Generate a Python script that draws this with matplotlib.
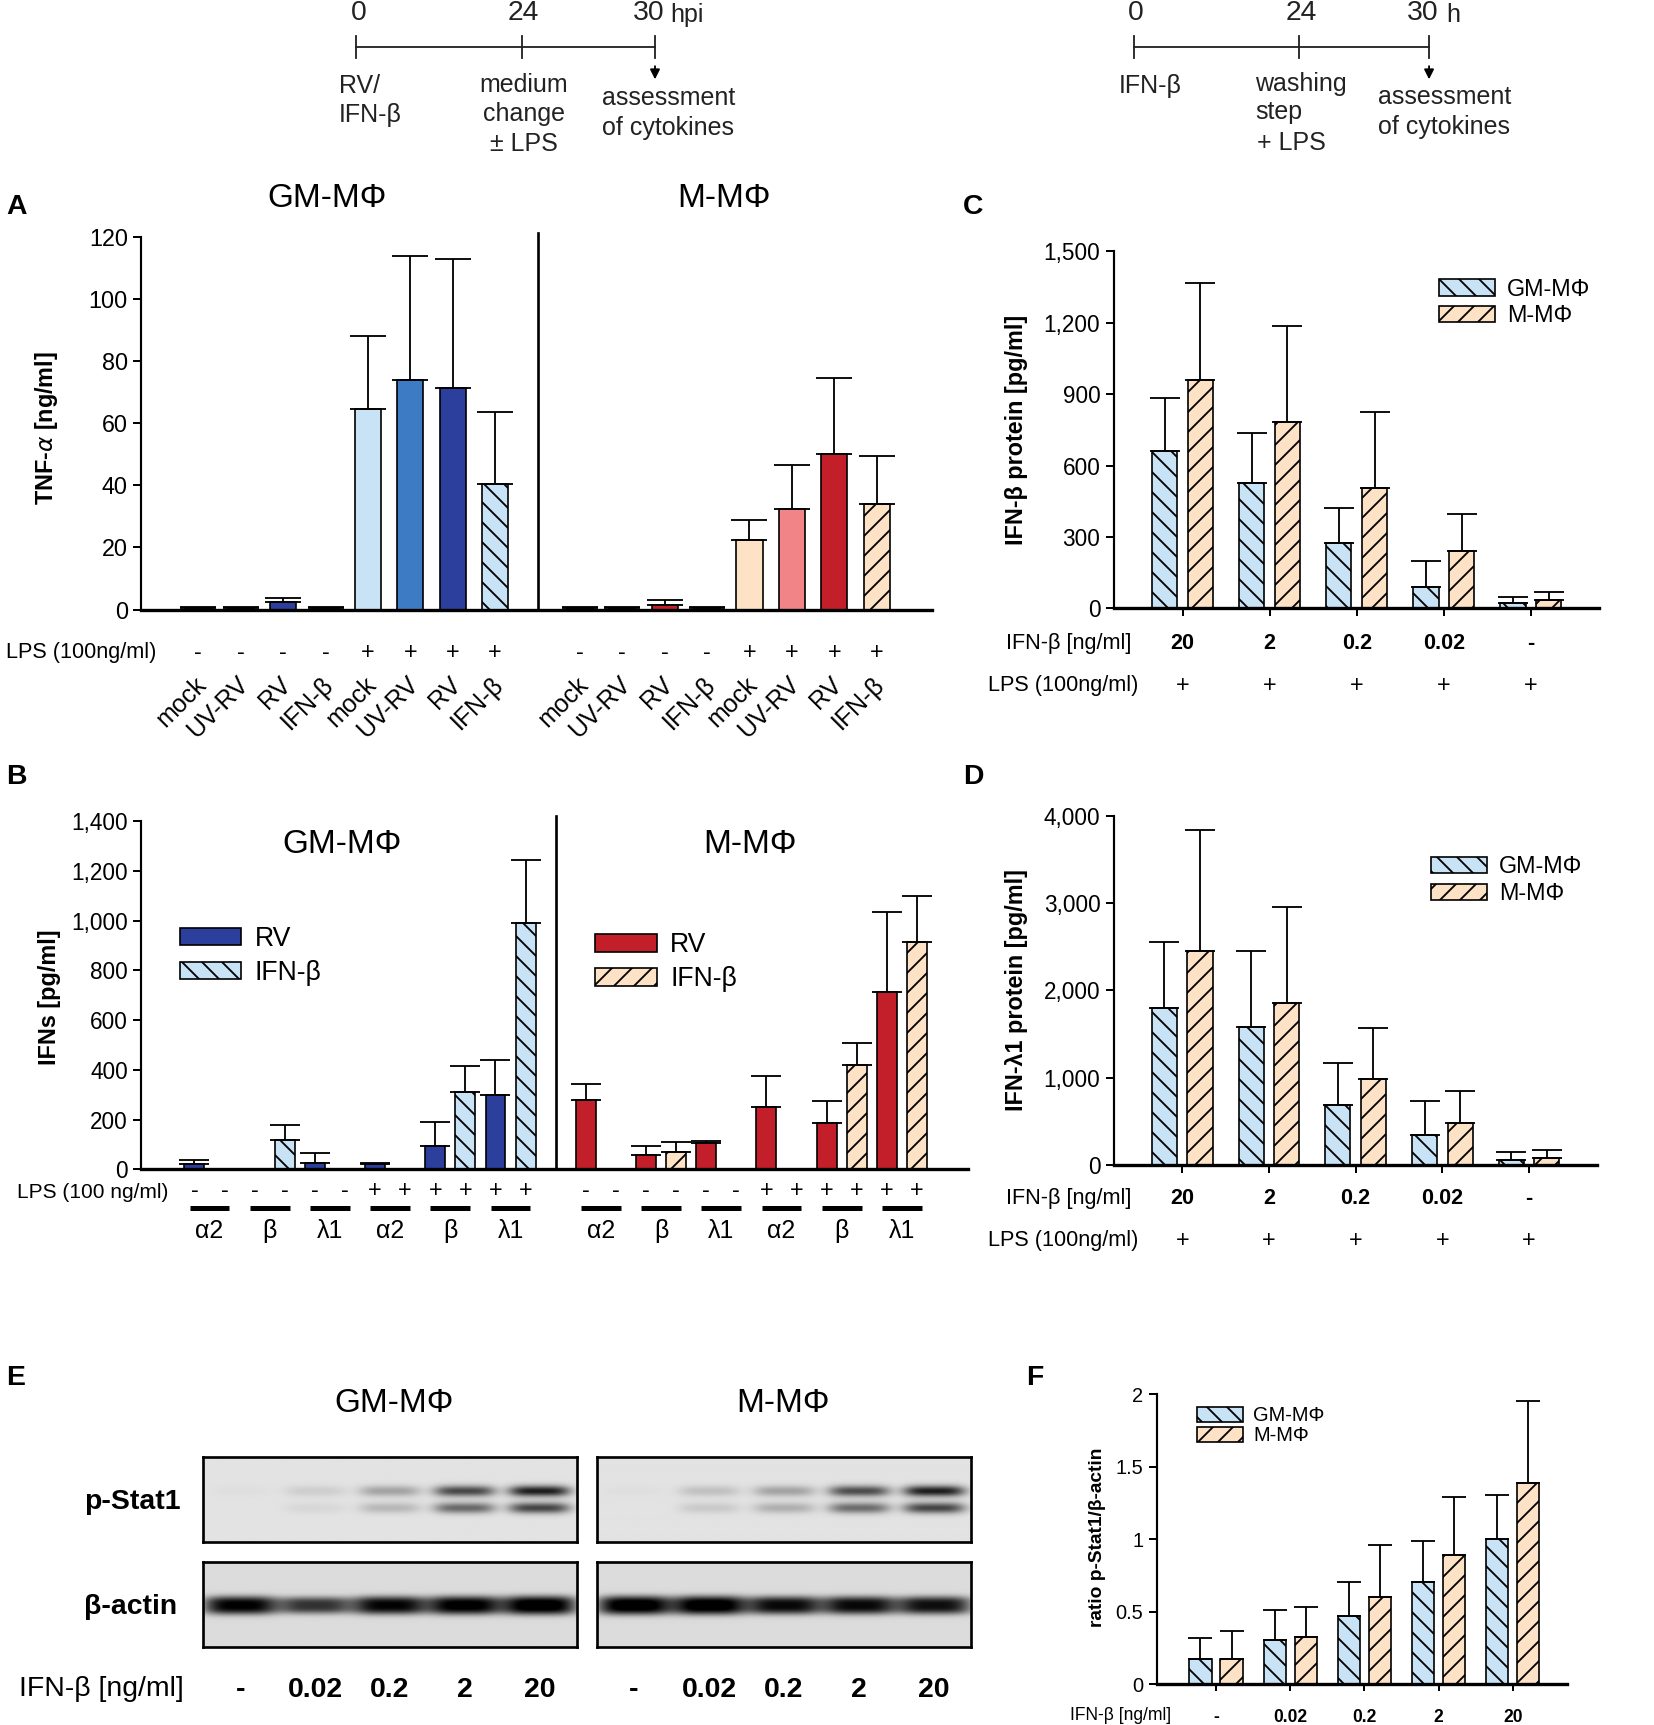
import numpy as np
import matplotlib
matplotlib.use('Agg')
import matplotlib.pyplot as plt
from matplotlib import transforms
from matplotlib.patches import Patch
from matplotlib.ticker import FuncFormatter

plt.rcParams['font.family'] = ['Liberation Sans', 'DejaVu Sans']
plt.rcParams['hatch.linewidth'] = 1.1
plt.rcParams['hatch.color'] = 'black'

# ---------------- data ----------------
# Panel A : TNF-alpha
a_conditions = ['mock', 'UV-RV', 'RV', 'IFN-β', 'mock', 'UV-RV', 'RV', 'IFN-β']
a_lps = ['-', '-', '-', '-', '+', '+', '+', '+']
a_gm_vals = [0.5, 0.5, 2.5, 0.5, 64.5, 74.0, 71.5, 40.5]
a_gm_err = [0.3, 0.3, 1.2, 0.3, 23.5, 40.0, 41.5, 23.0]
a_m_vals = [0.5, 0.5, 1.5, 0.5, 22.5, 32.5, 50.0, 34.0]
a_m_err = [0.3, 0.3, 1.5, 0.3, 6.5, 14.0, 24.5, 15.5]

# Panel B : IFNs
b_groups = ['α2', 'β', 'λ1', 'α2', 'β', 'λ1']
b_lps = ['-', '-', '-', '+', '+', '+']
b_gm_rv = [22, 0, 28, 20, 95, 300]
b_gm_rv_err = [18, 0, 39, 7, 96, 139]
b_gm_ifn = [0, 118, 3, 0, 310, 990]
b_gm_ifn_err = [0, 59, 0, 0, 107, 252]
b_m_rv = [278, 57, 105, 250, 185, 715]
b_m_rv_err = [65, 39, 9, 127, 89, 320]
b_m_ifn = [0, 70, 3, 0, 420, 915]
b_m_ifn_err = [0, 40, 0, 0, 87, 185]

# Panels C / D
cd_doses = ['20', '2', '0.2', '0.02', '-']
cd_lps = ['+', '+', '+', '+', '+']
c_gm = [660, 525, 275, 90, 22]
c_gm_err = [225, 210, 148, 108, 28]
c_m = [960, 785, 505, 240, 35]
c_m_err = [405, 403, 318, 156, 34]
d_gm = [1800, 1580, 690, 340, 60]
d_gm_err = [755, 865, 475, 395, 94]
d_m = [2445, 1860, 990, 480, 78]
d_m_err = [1393, 1090, 578, 368, 92]

# Panel E : western blot band intensities (0..1)
e_lanes = ['-', '0.02', '0.2', '2', '20']
e_gm_pstat_upper = [0.02, 0.10, 0.30, 0.72, 0.92]
e_gm_pstat_lower = [0.00, 0.06, 0.22, 0.62, 0.80]
e_m_pstat_upper = [0.02, 0.16, 0.30, 0.70, 0.92]
e_m_pstat_lower = [0.00, 0.13, 0.26, 0.60, 0.80]
e_gm_actin = [0.92, 0.70, 0.90, 0.95, 1.00]
e_m_actin = [1.00, 1.00, 0.88, 0.88, 0.85]

# Panel F : ratio p-Stat1 / beta-actin
f_doses = ['-', '0.02', '0.2', '2', '20']
f_gm = [0.175, 0.305, 0.47, 0.705, 1.0]
f_gm_err = [0.145, 0.21, 0.235, 0.28, 0.305]
f_m = [0.175, 0.325, 0.605, 0.89, 1.39]
f_m_err = [0.19, 0.21, 0.355, 0.405, 0.565]

# ---------------- styles ----------------
LIGHT_BLUE = '#c8e3f6'
MID_BLUE = '#3d7cc4'
DARK_BLUE = '#2c3f9c'
PEACH = '#fde2c5'
SALMON = '#f08486'
RED = '#c31f2b'
H_GM = '\\\\'
H_M = '//'
TXT = '#222222'

W, H = 1500.0, 1565.0
fig = plt.figure(figsize=(1654 / 120, 1725 / 120), dpi=120)
ov = fig.add_axes([0, 0, 1, 1])
ov.set_xlim(0, W)
ov.set_ylim(H, 0)
ov.axis('off')


def add_ax(l, t, r, b):
    return fig.add_axes([l / W, 1 - b / H, (r - l) / W, (b - t) / H])


def ytr(ax):
    return transforms.blended_transform_factory(ax.transData, ov.transData)


def style(ax, tick_fs, bottom_lw=2.0):
    for s in ['top', 'right']:
        ax.spines[s].set_visible(False)
    ax.spines['left'].set_linewidth(1.3)
    ax.spines['bottom'].set_linewidth(bottom_lw)
    ax.tick_params(axis='y', direction='out', length=5, width=1.2,
                   labelsize=tick_fs, pad=3, colors='black')
    ax.patch.set_alpha(0)


def bars(ax, x, vals, errs, colors, hatches, width, capsize):
    bc = ax.bar(x, vals, width=width, color=colors, edgecolor='black',
                linewidth=1.0, zorder=2)
    for p, h in zip(bc.patches, hatches):
        if h:
            p.set_hatch(h)
    x = np.asarray(x, float)
    vals = np.asarray(vals, float)
    errs = np.asarray(errs, float)
    m = errs > 0
    ax.errorbar(x[m], vals[m], yerr=[np.zeros(m.sum()), errs[m]], fmt='none',
                ecolor='black', elinewidth=1.1, capsize=capsize,
                capthick=1.1, zorder=3)


comma = FuncFormatter(lambda v, p: f'{v:,.0f}')

# ---------------- timelines ----------------
def timeline(xs, y, unit, unit_x):
    ov.plot([xs[0], xs[-1]], [y, y], color=TXT, lw=1.1)
    for x in xs:
        ov.plot([x, x], [y - 10, y + 10], color=TXT, lw=1.1)
    for x, s in zip(xs, ['0', '24', '30']):
        dx = -6 if s == '30' else 2
        ov.text(x + dx, 12, s, ha='center', va='center', fontsize=17, color=TXT)
    ov.text(unit_x, 14, unit, ha='left', va='center', fontsize=15, color=TXT)
    ov.annotate('', xy=(xs[-1], y + 32), xytext=(xs[-1], y + 14),
                arrowprops=dict(arrowstyle='-|>', color='black', lw=1.1,
                                mutation_scale=12))

timeline([323, 473, 594], 43, 'hpi', 608)
ov.text(307, 78, 'RV/', ha='left', va='center', fontsize=15, color=TXT)
ov.text(307, 104, 'IFN-β', ha='left', va='center', fontsize=15, color=TXT)
for yy, s in zip([77, 103, 131], ['medium', 'change', '± LPS']):
    ov.text(475, yy, s, ha='center', va='center', fontsize=15, color=TXT)
ov.text(546, 89, 'assessment', ha='left', va='center', fontsize=15, color=TXT)
ov.text(546, 116, 'of cytokines', ha='left', va='center', fontsize=15, color=TXT)

timeline([1028, 1178, 1296], 43, 'h', 1312)
ov.text(1015, 78, 'IFN-β', ha='left', va='center', fontsize=15, color=TXT)
ov.text(1138, 76, 'washing', ha='left', va='center', fontsize=15, color=TXT)
ov.text(1138, 102, 'step', ha='left', va='center', fontsize=15, color=TXT)
ov.text(1140, 130, '+ LPS', ha='left', va='center', fontsize=15, color=TXT)
ov.text(1250, 88, 'assessment', ha='left', va='center', fontsize=15, color=TXT)
ov.text(1250, 115, 'of cytokines', ha='left', va='center', fontsize=15, color=TXT)

# ---------------- panel letters ----------------
for x, y, s in [(6, 188, 'A'), (6, 705, 'B'), (873, 188, 'C'), (873, 705, 'D'),
                (6, 1250, 'E'), (931, 1250, 'F')]:
    ov.text(x, y, s, ha='left', va='center', fontsize=17, fontweight='bold')

# ---------------- Panel A ----------------
axA = add_ax(128, 215, 845, 553)
style(axA, 14)
gm_x = np.arange(8)
m_x = np.arange(9, 17)
bars(axA, gm_x, a_gm_vals, a_gm_err, [LIGHT_BLUE, MID_BLUE, DARK_BLUE, LIGHT_BLUE] * 2,
     ['', '', '', H_GM] * 2, 0.62, 11)
bars(axA, m_x, a_m_vals, a_m_err, [PEACH, SALMON, RED, PEACH] * 2,
     ['', '', '', H_M] * 2, 0.62, 11)
axA.set_xlim(-1.35, 17.3)
axA.set_ylim(0, 120)
axA.set_yticks(np.arange(0, 121, 20))
axA.set_xticks([])
axA.axvline(8, ymin=0, ymax=1.01, color='black', lw=1.6, clip_on=False)
trA = ytr(axA)
for xs in (gm_x, m_x):
    for x, s, c in zip(xs, a_lps, a_conditions):
        axA.text(x, 592, s, transform=trA, ha='center', va='center', fontsize=14)
        axA.text(x - 0.1, 610, c, transform=trA, ha='right', va='top',
                 rotation=45, rotation_mode='anchor', fontsize=15)
ov.text(5, 592, 'LPS (100ng/ml)', ha='left', va='center', fontsize=13)
ov.text(297, 180, 'GM-MΦ', ha='center', va='center', fontsize=20)
ov.text(657, 180, 'M-MΦ', ha='center', va='center', fontsize=20)
ov.text(42, 388, 'TNF-$\\alpha$ [ng/ml]', rotation=90, ha='center', va='center',
        fontsize=14, fontweight='bold')

# ---------------- Panel B ----------------
axB = add_ax(128, 745, 878, 1061)
style(axB, 13.5)
g = np.arange(6)
bars(axB, 2 * g, b_gm_rv, b_gm_rv_err, [DARK_BLUE] * 6, [''] * 6, 0.66, 9)
bars(axB, 2 * g + 1, b_gm_ifn, b_gm_ifn_err, [LIGHT_BLUE] * 6, [H_GM] * 6, 0.66, 9)
bars(axB, 13 + 2 * g, b_m_rv, b_m_rv_err, [RED] * 6, [''] * 6, 0.66, 9)
bars(axB, 14 + 2 * g, b_m_ifn, b_m_ifn_err, [PEACH] * 6, [H_M] * 6, 0.66, 9)
axB.set_xlim(-1.77, 25.7)
axB.set_ylim(0, 1400)
axB.set_yticks(np.arange(0, 1401, 200))
axB.yaxis.set_major_formatter(comma)
axB.set_xticks([])
axB.axvline(12, ymin=0, ymax=1.015, color='black', lw=1.6, clip_on=False)
trB = ytr(axB)
for off in (0, 13):
    for gi, (lab, s) in enumerate(zip(b_groups, b_lps)):
        x0 = off + 2 * gi
        for x in (x0, x0 + 1):
            axB.text(x, 1080, s, transform=trB, ha='center', va='center', fontsize=14)
        axB.plot([x0 + 0.5 - 0.66, x0 + 0.5 + 0.66], [1096, 1096], transform=trB,
                 color='black', lw=3.0, clip_on=False, solid_capstyle='butt')
        axB.text(x0 + 0.5, 1117, lab, transform=trB, ha='center', va='center',
                 fontsize=15)
ov.text(15, 1082, 'LPS (100 ng/ml)', ha='left', va='center', fontsize=12.5)
ov.text(310, 766, 'GM-MΦ', ha='center', va='center', fontsize=20)
ov.text(680, 766, 'M-MΦ', ha='center', va='center', fontsize=20)
ov.text(45, 905, 'IFNs [pg/ml]', rotation=90, ha='center', va='center',
        fontsize=14, fontweight='bold')

leg_kw = dict(loc='upper left', bbox_transform=fig.transFigure, frameon=False,
              borderpad=0, borderaxespad=0)
lg1 = axB.legend([Patch(fc=DARK_BLUE, ec='black'), Patch(fc=LIGHT_BLUE, ec='black', hatch=H_GM)],
                 ['RV', 'IFN-β'], bbox_to_anchor=(163 / W, 1 - 840 / H), fontsize=16,
                 handlelength=2.3, handleheight=0.65, handletextpad=0.5,
                 labelspacing=0.3, **leg_kw)
axB.add_artist(lg1)
axB.legend([Patch(fc=RED, ec='black'), Patch(fc=PEACH, ec='black', hatch=H_M)],
           ['RV', 'IFN-β'], bbox_to_anchor=(540 / W, 1 - 846 / H), fontsize=16,
           handlelength=2.3, handleheight=0.65, handletextpad=0.5,
           labelspacing=0.3, **leg_kw)

# ---------------- Panels C and D ----------------
def dose_panel(box, gm, gm_err, mm, mm_err, ymax, ystep, ylabel, ylab_y,
               leg_xy, row1_y, row2_y):
    ax = add_ax(*box)
    style(ax, 13.5)
    x = np.arange(len(cd_doses))
    bars(ax, x - 0.205, gm, gm_err, [LIGHT_BLUE] * 5, [H_GM] * 5, 0.29, 9)
    bars(ax, x + 0.205, mm, mm_err, [PEACH] * 5, [H_M] * 5, 0.29, 9)
    ax.set_xlim(-0.79, 4.78)
    ax.set_ylim(0, ymax)
    ax.set_yticks(np.arange(0, ymax + 1, ystep))
    ax.yaxis.set_major_formatter(comma)
    ax.set_xticks(x)
    ax.set_xticklabels([])
    ax.tick_params(axis='x', direction='out', length=5, width=1.2)
    tr = ytr(ax)
    for xi, d, l in zip(x, cd_doses, cd_lps):
        ax.text(xi, row1_y, d, transform=tr, ha='center', va='center', fontsize=13,
                fontweight='bold')
        ax.text(xi, row2_y, l, transform=tr, ha='center', va='center', fontsize=14)
    ov.text(969, row1_y, 'IFN-β [ng/ml]', ha='center', va='center', fontsize=13)
    ov.text(964, row2_y, 'LPS (100ng/ml)', ha='center', va='center', fontsize=13)
    ov.text(922, ylab_y, ylabel, rotation=90, ha='center', va='center',
            fontsize=14, fontweight='bold')
    ax.legend([Patch(fc=LIGHT_BLUE, ec='black', hatch=H_GM),
               Patch(fc=PEACH, ec='black', hatch=H_M)], ['GM-MΦ', 'M-MΦ'],
              bbox_to_anchor=(leg_xy[0] / W, 1 - leg_xy[1] / H), fontsize=14,
              handlelength=2.4, handleheight=0.7, handletextpad=0.5,
              labelspacing=0.15, **leg_kw)
    return ax

dose_panel((1010, 228, 1450, 552), c_gm, c_gm_err, c_m, c_m_err, 1500, 300,
           'IFN-β protein [pg/ml]', 390, (1305, 252), 584, 622)
dose_panel((1010, 740, 1448, 1057), d_gm, d_gm_err, d_m, d_m_err, 4000, 1000,
           'IFN-λ1 protein [pg/ml]', 898, (1298, 776), 1087, 1125)

# ---------------- Panel E : western blots ----------------
def blot(box, upper, lower, actin):
    ax = add_ax(*box)
    ny, nx = 160, 600
    yy, xx = np.mgrid[0:1:ny * 1j, 0:1:nx * 1j]
    centers = np.linspace(0.1, 0.9, len(e_lanes))
    if actin is None:
        img = np.full((ny, nx), 0.89)
        for c, u, l in zip(centers, upper, lower):
            px = np.exp(-np.abs((xx - c) / 0.082) ** 4)
            img -= 0.85 * u * px * np.exp(-((yy - 0.40) / 0.065) ** 2)
            img -= 0.78 * l * px * np.exp(-((yy - 0.60) / 0.065) ** 2)
    else:
        img = np.full((ny, nx), 0.86)
        for c, a in zip(centers, actin):
            px = np.exp(-np.abs((xx - c) / 0.098) ** 4)
            img -= 0.95 * a * px * np.exp(-np.abs((yy - 0.51) / (0.075 + 0.035 * a)) ** 3)
    ax.imshow(np.clip(img, 0, 1), cmap='gray', vmin=0, vmax=1, extent=(0, 1, 1, 0),
              aspect='auto', interpolation='bilinear')
    ax.set_xticks([])
    ax.set_yticks([])
    for s in ax.spines.values():
        s.set_linewidth(1.6)
    return ax

gm_p = blot((184, 1322, 523, 1399), e_gm_pstat_upper, e_gm_pstat_lower, None)
blot((184, 1417, 523, 1494), None, None, e_gm_actin)
m_p = blot((541, 1322, 881, 1399), e_m_pstat_upper, e_m_pstat_lower, None)
blot((541, 1417, 881, 1494), None, None, e_m_actin)
for ax in (gm_p, m_p):
    tr = ytr(ax)
    for c, s in zip(np.linspace(0.1, 0.9, len(e_lanes)), e_lanes):
        ax.text(c, 1533, s, transform=tr, ha='center', va='center', fontsize=17,
                fontweight='bold')
ov.text(357, 1273, 'GM-MΦ', ha='center', va='center', fontsize=20)
ov.text(710, 1273, 'M-MΦ', ha='center', va='center', fontsize=20)
ov.text(120, 1363, 'p-Stat1', ha='center', va='center', fontsize=17, fontweight='bold')
ov.text(118, 1458, 'β-actin', ha='center', va='center', fontsize=17, fontweight='bold')
ov.text(92, 1532, 'IFN-β [ng/ml]', ha='center', va='center', fontsize=17)

# ---------------- Panel F ----------------
axF = add_ax(1049, 1265, 1421, 1528)
style(axF, 12)
xf = np.arange(len(f_doses))
bars(axF, xf - 0.21, f_gm, f_gm_err, [LIGHT_BLUE] * 5, [H_GM] * 5, 0.30, 7)
bars(axF, xf + 0.21, f_m, f_m_err, [PEACH] * 5, [H_M] * 5, 0.30, 7)
axF.set_xlim(-0.8, 4.73)
axF.set_ylim(0, 2)
axF.set_yticks([0, 0.5, 1, 1.5, 2])
axF.yaxis.set_major_formatter(FuncFormatter(lambda v, p: f'{v:g}'))
axF.set_xticks(xf)
axF.set_xticklabels([])
axF.tick_params(axis='x', direction='out', length=4, width=1.2)
trF = ytr(axF)
for xi, d in zip(xf, f_doses):
    axF.text(xi, 1558, d, transform=trF, ha='center', va='center', fontsize=10.5,
             fontweight='bold')
ov.text(1016, 1556, 'IFN-β [ng/ml]', ha='center', va='center', fontsize=10.5)
ov.text(995, 1395, 'ratio p-Stat1/β-actin', rotation=90, ha='center', va='center',
        fontsize=11.5, fontweight='bold')
axF.legend([Patch(fc=LIGHT_BLUE, ec='black', hatch=H_GM),
            Patch(fc=PEACH, ec='black', hatch=H_M)], ['GM-MΦ', 'M-MΦ'],
           bbox_to_anchor=(1086 / W, 1 - 1276 / H), fontsize=12,
           handlelength=2.3, handleheight=0.75, handletextpad=0.5,
           labelspacing=0.05, **leg_kw)

fig.savefig('out.png', dpi=120)
